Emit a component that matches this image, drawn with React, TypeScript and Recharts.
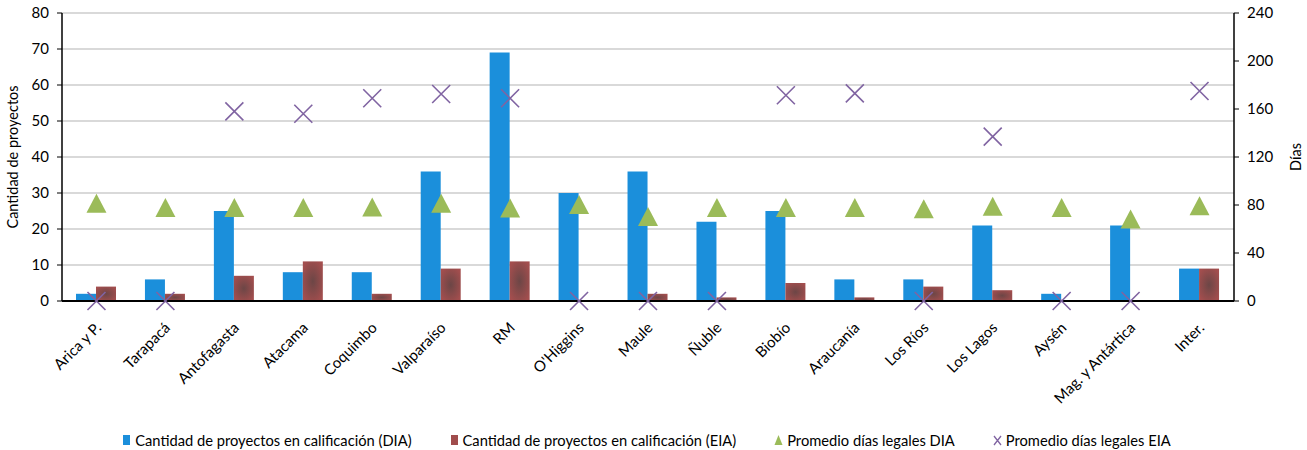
import React from "react";
import {
  ComposedChart,
  Bar,
  Line,
  XAxis,
  YAxis,
  CartesianGrid,
} from "recharts";

const regions = [
  "Arica y P.",
  "Tarapacá",
  "Antofagasta",
  "Atacama",
  "Coquimbo",
  "Valparaíso",
  "RM",
  "O'Higgins",
  "Maule",
  "Ñuble",
  "Biobío",
  "Araucanía",
  "Los Ríos",
  "Los Lagos",
  "Aysén",
  "Mag. y Antártica",
  "Inter.",
];
const proyectosDIA = [2, 6, 25, 8, 8, 36, 69, 30, 36, 22, 25, 6, 6, 21, 2, 21, 9];
const proyectosEIA = [4, 2, 7, 11, 2, 9, 11, 0, 2, 1, 5, 1, 4, 3, 0, 0, 9];
const diasDIA = [81, 77.5, 77.5, 77.5, 78, 81, 77, 80, 70, 77.5, 77.5, 77.5, 76.5, 78.5, 77.5, 68, 79];
const diasEIA = [0, 0, 158, 156, 169, 172.5, 169, 0, 0, 0, 171.5, 173, 0, 137, 0, 0, 175];
const leftTicks = [0, 10, 20, 30, 40, 50, 60, 70, 80];
const rightTicks = [0, 40, 80, 120, 160, 200, 240];

const BLUE = "#1b8fdb";
const RED = "#a04c4c";
const GREEN = "#9bbb59";
const PURPLE = "#8064a2";
const FONT = "Lato, 'Open Sans', sans-serif";

const data = regions.map((region, i) => ({
  region,
  dia: proyectosDIA[i],
  eia: proyectosEIA[i],
  diasDIA: diasDIA[i],
  diasEIA: diasEIA[i],
}));

const Triangle = (props: any) => {
  const { cx, cy, index } = props;
  if (cx == null || cy == null) return <g key={index} />;
  return (
    <path
      key={index}
      d={`M${cx},${cy - 10} L${cx + 10},${cy + 9} L${cx - 10},${cy + 9} Z`}
      fill={GREEN}
    />
  );
};

const Cross = (props: any) => {
  const { cx, cy, index } = props;
  if (cx == null || cy == null) return <g key={index} />;
  const s = 9;
  return (
    <path
      key={index}
      d={`M${cx - s},${cy - s} L${cx + s},${cy + s} M${cx - s},${cy + s} L${cx + s},${cy - s}`}
      stroke={PURPLE}
      strokeWidth={1.6}
      fill="none"
    />
  );
};

const RegionTick = (props: any) => {
  const { x, y, payload } = props;
  return (
    <g transform={`translate(${x + 2},${y + 16}) rotate(-45)`}>
      <text textAnchor="end" fontSize={15} fontFamily={FONT} fill="#000" dy="0.35em">
        {payload.value}
      </text>
    </g>
  );
};

const legendItems = [
  { label: "Cantidad de proyectos en calificación (DIA)", kind: "blue" },
  { label: "Cantidad de proyectos en calificación (EIA)", kind: "red" },
  { label: "Promedio días legales DIA", kind: "tri" },
  { label: "Promedio días legales EIA", kind: "x" },
];

const LegendIcon = ({ kind }: { kind: string }) => (
  <svg width={9} height={12} style={{ marginRight: 4 }}>
    {kind === "blue" && <rect x={1} y={1} width={7} height={10} fill={BLUE} />}
    {kind === "red" && <rect x={1} y={1} width={7} height={10} fill={RED} />}
    {kind === "tri" && <path d="M4.5,1 L8.5,11 L0.5,11 Z" fill={GREEN} />}
    {kind === "x" && (
      <path d="M1,2 L8,11 M1,11 L8,2" stroke={PURPLE} strokeWidth={1.3} fill="none" />
    )}
  </svg>
);

export default function App() {
  return (
    <div style={{ position: "absolute", left: 0, top: 0, width: 1307, height: 450, background: "#fff" }}>
      <ComposedChart
        width={1307}
        height={450}
        data={data}
        margin={{ top: 13, right: 0, bottom: 0, left: 0 }}
        barGap={0}
      >
        <defs>
          <radialGradient id="eiaGrad" cx="50%" cy="50%" r="60%">
            <stop offset="0%" stopColor="#6c4646" />
            <stop offset="100%" stopColor="#a34e4e" />
          </radialGradient>
        </defs>
        <CartesianGrid yAxisId="left" vertical={false} stroke="#d9d9d9" strokeWidth={2} />
        <XAxis
          dataKey="region"
          height={149}
          interval={0}
          tickLine={false}
          axisLine={{ stroke: "#000", strokeWidth: 2 }}
          tick={<RegionTick />}
        />
        <YAxis
          yAxisId="left"
          width={62}
          domain={[0, 80]}
          ticks={leftTicks}
          tickSize={5}
          tickMargin={8}
          axisLine={{ stroke: "#000", strokeWidth: 1.5 }}
          tickLine={{ stroke: "#000" }}
          tick={{ fontSize: 15, fontFamily: FONT, fill: "#000" }}
          label={{
            value: "Cantidad de proyectos",
            angle: -90,
            position: "insideLeft",
            dx: 8,
            style: { fontSize: 14.5, fontFamily: FONT, fill: "#000", textAnchor: "middle" },
          }}
        />
        <YAxis
          yAxisId="right"
          orientation="right"
          width={73}
          domain={[0, 240]}
          ticks={rightTicks}
          tickSize={5}
          tickMargin={8}
          axisLine={{ stroke: "#000", strokeWidth: 1.5 }}
          tickLine={{ stroke: "#000" }}
          tick={{ fontSize: 15, fontFamily: FONT, fill: "#000" }}
          label={{
            value: "Días",
            angle: -90,
            position: "insideRight",
            dx: -6,
            style: { fontSize: 14.5, fontFamily: FONT, fill: "#000", textAnchor: "middle" },
          }}
        />
        <Bar yAxisId="left" dataKey="dia" fill={BLUE} barSize={20} isAnimationActive={false} />
        <Bar yAxisId="left" dataKey="eia" fill="url(#eiaGrad)" barSize={20} isAnimationActive={false} />
        <Line
          yAxisId="right"
          dataKey="diasDIA"
          stroke="none"
          dot={Triangle}
          activeDot={false}
          isAnimationActive={false}
        />
        <Line
          yAxisId="right"
          dataKey="diasEIA"
          stroke="none"
          dot={Cross}
          activeDot={false}
          isAnimationActive={false}
        />
      </ComposedChart>
      <div
        style={{
          position: "absolute",
          top: 431,
          left: 0,
          width: 1307,
          display: "flex",
          justifyContent: "center",
          gap: 38,
          fontFamily: FONT,
          fontSize: 14.7,
          color: "#000",
          paddingRight: 14,
          boxSizing: "border-box",
        }}
      >
        {legendItems.map((it) => (
          <div key={it.label} style={{ display: "flex", alignItems: "center", whiteSpace: "nowrap" }}>
            <LegendIcon kind={it.kind} />
            <span>{it.label}</span>
          </div>
        ))}
      </div>
    </div>
  );
}
